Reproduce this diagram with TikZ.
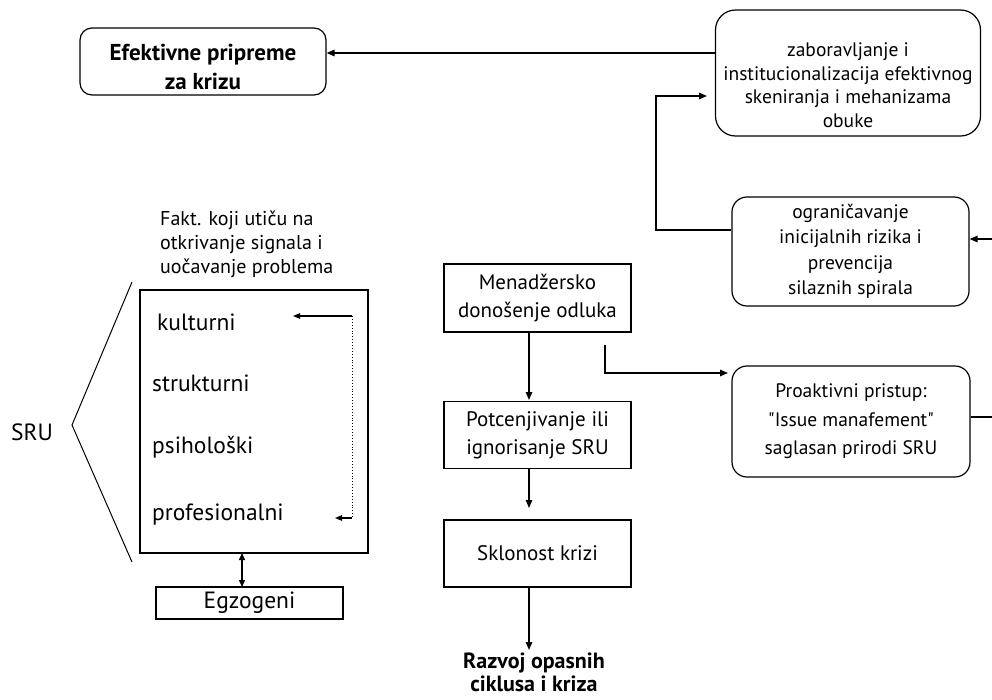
\documentclass[tikz,border=0pt]{standalone}
\usepackage{fontspec}
\setmainfont{PT Sans}[Ligatures=TeXOff]
\usetikzlibrary{arrows.meta,calc}
\tikzset{
  box/.style={draw, line width=1.2pt, inner sep=0pt, align=center},
  rbox/.style={box, rounded corners=15pt},
  plain/.style={inner sep=0pt, align=center},
  arr/.style={line width=1.4pt, -{Triangle[length=8pt,width=6.5pt]}},
  txtA/.style={font=\fontsize{19.5}{24.5}\selectfont},
  txtB/.style={font=\fontsize{21}{28}\selectfont},
  txtC/.style={font=\fontsize{23.5}{26}\selectfont},
  bold/.style={font=\bfseries\fontsize{23}{29}\selectfont},
}
\begin{document}
\begin{tikzpicture}[x=1pt,y=-1pt]
\useasboundingbox (0,0) rectangle (992,699);
\clip (0,0) rectangle (992,699);
% rounded boxes
\node[rbox, minimum width=246pt, minimum height=67pt, rounded corners=12pt] (ef) at (203,61.5) {};
\node[plain, bold] (eft) at (203,67) {Efektivne pripreme\\za krizu};
\node[rbox, rounded corners=20pt, minimum width=265pt, minimum height=126pt] (zab) at (848,73) {};
\node[plain, font=\fontsize{19.5}{23.5}\selectfont] (zabt) at (848,85)
  {zaboravljanje i\\institucionalizacija efektivnog\\skeniranja i mehanizama\\obuke};
\node[rbox, minimum width=237pt, minimum height=109pt, font=\fontsize{19.5}{25.5}\selectfont] (ogr) at (850.5,251.5)
  {ograničavanje\\inicijalnih rizika i\\prevencija\\silaznih spirala};
\node[rbox, minimum width=238pt, minimum height=111pt, font=\fontsize{19.5}{28.5}\selectfont] (pro) at (851,421.5)
  {Proaktivni pristup:\\"Issue manafement"\\saglasan prirodi SRU};
% middle column
\node[box, minimum width=187pt, minimum height=68pt, txtB] (men) at (537.5,298) {Menadžersko\\donošenje odluka};
\node[box, minimum width=187pt, minimum height=67pt, txtB] (pot) at (537.5,435) {Potcenjivanje ili\\ignorisanje SRU};
\node[box, minimum width=187pt, minimum height=67pt, txtB] (skl) at (537.5,553.5) {Sklonost krizi};
\node[plain, font=\bfseries\fontsize{22}{23}\selectfont] (raz) at (534,672) {Razvoj opasnih\\ciklusa i kriza};
% left part
\node[align=left, anchor=west, inner sep=0pt, font=\fontsize{20}{24}\selectfont] (fakt) at (160,244)
  {Fakt. koji utiču na\\otkrivanje signala i\\uočavanje problema};
\node[box, minimum width=228pt, minimum height=263pt] (big) at (254,421.5) {};
\node[anchor=west, inner sep=0pt, txtC] (kul) at (157,322) {kulturni};
\node[anchor=west, inner sep=0pt, txtC] (str) at (152,383) {strukturni};
\node[anchor=west, inner sep=0pt, txtC] (psi) at (152,447) {psihološki};
\node[anchor=west, inner sep=0pt, txtC] (prof) at (152,515) {profesionalni};
\node[box, minimum width=187pt, minimum height=32pt, txtC] (egz) at (249.5,603) {Egzogeni};
\node[inner sep=0pt, txtC] (sru) at (32,432) {SRU};
% bracket
\coordinate (b1) at (132,282);
\coordinate (b2) at (72,425);
\coordinate (b3) at (132,562);
\draw[line width=1pt] (b1) -- (b2) -- (b3);
% connectors
\coordinate (y53) at (0,53);
\draw[arr] (zab.west |- y53) -- (ef.east |- y53);
\coordinate (o1) at (656,230);
\coordinate (o2) at (656,96);
\coordinate (o3) at (707,96);
\draw[arr] (ogr.west |- o1) -- (o1) -- (o2) -- (o3);
\coordinate (p1) at (1000,417);
\coordinate (p2) at (1000,239);
\draw[arr] (pro.east |- p1) -- (p1) -- (p2) -- (ogr.east |- p2);
\coordinate (m1) at (605,345);
\coordinate (m2) at (605,373);
\coordinate (m3) at (728,373);
\draw[arr] (m1) -- (m2) -- (m3);
\coordinate (a1) at (529,400);
\coordinate (a2) at (529,508);
\coordinate (a3) at (529,650);
\draw[arr] (men.south -| a1) -- (a1);
\draw[arr] (pot.south -| a2) -- (a2);
\draw[arr] (skl.south -| a3) -- (a3);
% dotted loop
\coordinate (d1) at (352,316);
\coordinate (d2) at (293,316);
\coordinate (d3) at (352,518);
\coordinate (d4) at (335,518);
\draw[line width=1.1pt, -{Triangle[length=7pt,width=5.5pt]}] (d1) -- (d2);
\draw[line width=0.9pt, dotted] (d1) -- (d3);
\draw[line width=1.1pt, -{Triangle[length=7pt,width=5.5pt]}] (d3) -- (d4);
% double arrow
\coordinate (e1) at (242,553);
\coordinate (e2) at (242,587);
\draw[line width=1.4pt, {Triangle[length=7pt,width=6pt]}-{Triangle[length=7pt,width=6pt]}] (e1) -- (e2);
\end{tikzpicture}
\end{document}
